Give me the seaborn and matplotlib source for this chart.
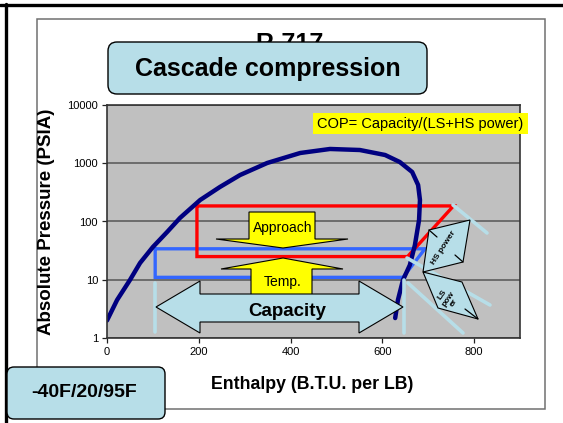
import numpy as np
import pandas as pd
import matplotlib
matplotlib.use("Agg")
import matplotlib.pyplot as plt
import seaborn as sns
from matplotlib.patches import Polygon, Rectangle, FancyBboxPatch
from matplotlib.lines import Line2D
from matplotlib.transforms import Affine2D

# --- DATA ---
# saturation dome of R-717 (enthalpy BTU/lb, pressure psia)
dome_h = [0, 22, 50, 72, 100, 131, 159, 203, 246, 290, 349, 421, 486, 551,
          606, 638, 665, 678, 682, 680, 671, 660, 645, 634, 628]
dome_p = [2.0, 4.5, 9.9, 19.4, 36.5, 66, 115, 234, 391, 628, 1010, 1500, 1758,
          1688, 1386, 1050, 708, 423, 234, 106, 39.5, 17.9, 9.9, 4.5, 2.2]

# high stage cycle (red) and low stage cycle (blue)
hs_h = [196, 755, 655, 196, 196]
hs_p = [185, 185, 25, 25, 185]
ls_h = [105, 693, 645, 105, 105]
ls_p = [34, 34, 11, 11, 34]

x_ticks = [0, 200, 400, 600, 800]
y_ticks = [1, 10, 100, 1000, 10000]
y_labels = ['1', '10', '100', '1000', '10000']

# --- STYLE ---
sns.set_style("white")
plt.rcParams['font.family'] = ['Liberation Sans', 'DejaVu Sans']
plt.rcParams['text.color'] = 'black'

W, H = 563, 423
fig = plt.figure(figsize=(W / 100, H / 100), dpi=100)
# pixel coordinates (origin top-left) for the slide decorations
px = Affine2D().scale(1 / W, -1 / H).translate(0, 1) + fig.transFigure

def ftext(x, y, s, **kw):
    opts = dict(ha='center', va='center', color='black', zorder=5)
    opts.update(kw)
    fig.text(x / W, 1 - y / H, s, **opts)

# slide frame
fig.add_artist(Line2D([0, 563], [5.5, 5.5], color='black', lw=2.4, transform=px))
fig.add_artist(Line2D([5.5, 5.5], [4, 423], color='black', lw=2.4, transform=px))
fig.add_artist(Rectangle((37, 19), 508, 390, fill=False, ec='#707070', lw=1.1, transform=px))

# --- AXES ---
ax = fig.add_axes([107 / W, (H - 338) / H, 413 / W, 233 / H])
ax.set_facecolor('#C0C0C0')

sns.lineplot(x=ls_h, y=ls_p, sort=False, estimator=None, color='#3366FF', lw=2.4,
             solid_joinstyle='miter', ax=ax)
sns.lineplot(x=hs_h, y=hs_p, sort=False, estimator=None, color='#FF0000', lw=2.4,
             solid_joinstyle='miter', ax=ax)
sns.lineplot(x=dome_h, y=dome_p, sort=False, estimator=None, color='#000080', lw=3.2, ax=ax)

ax.set_yscale('log')
ax.set_xlim(0, 900)
ax.set_ylim(1, 10000)
ax.set_xticks(x_ticks)
ax.set_yticks(y_ticks)
ax.set_yticklabels(y_labels)
ax.minorticks_off()
ax.yaxis.grid(True, color='#555555', lw=1.1)
ax.xaxis.grid(False)
ax.tick_params(direction='out', length=3.5, width=0.9, color='#222222',
               labelsize=8, labelcolor='black', pad=3, bottom=True, left=True)
for s in ax.spines.values():
    s.set_color('#333333')
    s.set_linewidth(1.2)
ax.set_xlabel('')
ax.set_ylabel('')

# axis titles
ftext(47, 222, 'Absolute Pressure (PSIA)', fontsize=13.5, fontweight='bold', rotation=90)
ftext(312, 384, 'Enthalpy (B.T.U. per LB)', fontsize=12.8, fontweight='bold')

# chart title hidden behind the box
ftext(290, 32, 'R-717', fontsize=18, fontweight='bold', va='top', zorder=0.5)

lb = '#B7DEE8'
fig.add_artist(FancyBboxPatch((108, 42), 319, 52, boxstyle='round,pad=0,rounding_size=9',
                              fc=lb, ec='black', lw=1, transform=px, zorder=2))
ftext(268, 69, 'Cascade compression', fontsize=18, fontweight='bold')

# COP note
fig.add_artist(Rectangle((313, 113), 215, 21, fc='#FFFF00', ec='none', transform=px))
ftext(420, 124, 'COP= Capacity/(LS+HS power)', fontsize=10.5)

# light blue guide lines
for (x0, y0, x1, y1) in [(155, 283, 155, 332), (404, 280, 404, 333), (453, 205, 487, 233),
                         (407, 258, 490, 305), (408, 283, 463, 333)]:
    fig.add_artist(Line2D([x0, x1], [y0, y1], color=lb, lw=2.6, transform=px))

# approach / temp arrows
yel = dict(fc='#FFFF00', ec='black', lw=0.8, transform=px, zorder=2)
fig.add_artist(Polygon([(249, 212), (315, 212), (315, 239), (348, 239), (283, 248),
                        (216, 239), (249, 239)], **yel))
fig.add_artist(Polygon([(283, 258), (343, 269), (312, 269), (312, 300), (251, 300),
                        (251, 269), (221, 269)], **yel))
ftext(283, 228, 'Approach', fontsize=10)
ftext(283, 282, 'Temp.', fontsize=10)

# capacity double arrow
fig.add_artist(Polygon([(156, 307), (200, 281), (200, 294), (359, 294), (359, 281),
                        (403, 307), (359, 333), (359, 322), (200, 322), (200, 333)],
                       fc=lb, ec='black', lw=0.8, transform=px, zorder=2))
ftext(287, 312, 'Capacity', fontsize=13.5, fontweight='bold')

# compressor power shapes
pw = dict(fc=lb, ec='black', lw=0.8, transform=px, zorder=2)
fig.add_artist(Polygon([(429, 230), (470, 220), (463, 262), (423, 272)], **pw))
fig.add_artist(Polygon([(423, 272), (462, 282), (478, 319), (438, 308)], **pw))
for (x0, y0, x1, y1) in [(429, 230, 437, 237), (455, 255, 463, 262), (465, 309, 478, 319)]:
    fig.add_artist(Line2D([x0, x1], [y0, y1], color='black', lw=0.9, transform=px, zorder=3))
ftext(444, 248, 'HS power', fontsize=6, fontweight='bold', rotation=57)
ftext(448, 299, 'LS\npow\ner', fontsize=6, fontweight='bold', rotation=55,
      linespacing=1.05, multialignment='center')

# condition box
fig.add_artist(FancyBboxPatch((7, 367), 158, 52, boxstyle='round,pad=0,rounding_size=7',
                              fc=lb, ec='black', lw=1, transform=px, zorder=2))
ftext(84, 392, '-40F/20/95F', fontsize=14, fontweight='bold')

fig.savefig('out.png', dpi=100)
